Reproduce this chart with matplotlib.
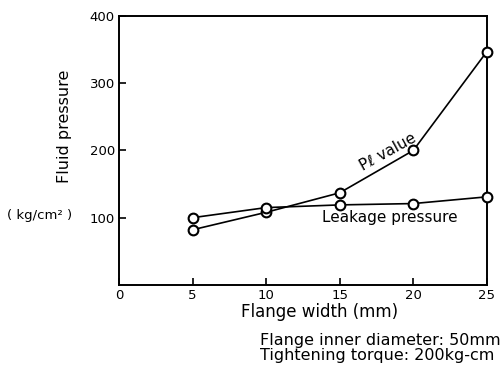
import matplotlib
matplotlib.use("Agg")
import matplotlib.pyplot as plt

flange_width = [5, 10, 15, 20, 25]
pl_value = [82, 108, 137, 200, 347]
leakage_pressure = [100, 115, 119, 121, 131]
x_ticks = [0, 5, 10, 15, 20, 25]
y_ticks = [100, 200, 300, 400]

plt.rcParams['font.family'] = ['DejaVu Sans']

fig = plt.figure(figsize=(5.04, 3.71), dpi=100)
ax = fig.add_axes([0.236, 0.232, 0.730, 0.725])

ax.plot(flange_width, pl_value, color='black', lw=1.2, marker='o', ms=7,
        mfc='white', mec='black', mew=1.5, zorder=3, clip_on=False)
ax.plot(flange_width, leakage_pressure, color='black', lw=1.2, marker='o', ms=7,
        mfc='white', mec='black', mew=1.5, zorder=3, clip_on=False)

ax.set_xlim(0, 25)
ax.set_ylim(0, 400)
ax.set_xticks(x_ticks)
ax.set_yticks(y_ticks)
ax.tick_params(direction='in', length=5, width=1.2, labelsize=9.5, pad=3)
for s in ax.spines.values():
    s.set_linewidth(1.4)

ax.set_xlabel('Flange width (mm)', fontsize=12, labelpad=1)
ax.xaxis.set_label_coords(0.546, -0.068)
ax.xaxis.label.set_va('top')
fig.text(0.127, 0.66, 'Fluid pressure', rotation=90, fontsize=11.5,
         ha='center', va='center')
fig.text(0.079, 0.42, '( kg/cm² )', fontsize=9.5, ha='center', va='center')

ax.text(18.3, 197, 'Pℓ value', rotation=29, fontsize=11, ha='center', va='center')
ax.text(18.4, 100, 'Leakage pressure', fontsize=11, ha='center', va='center')

fig.text(0.516, 0.062, 'Flange inner diameter: 50mm\nTightening torque: 200kg-cm',
         fontsize=11.5, ha='left', va='center', multialignment='left',
         linespacing=0.95)

fig.savefig('out.png', dpi=100)
